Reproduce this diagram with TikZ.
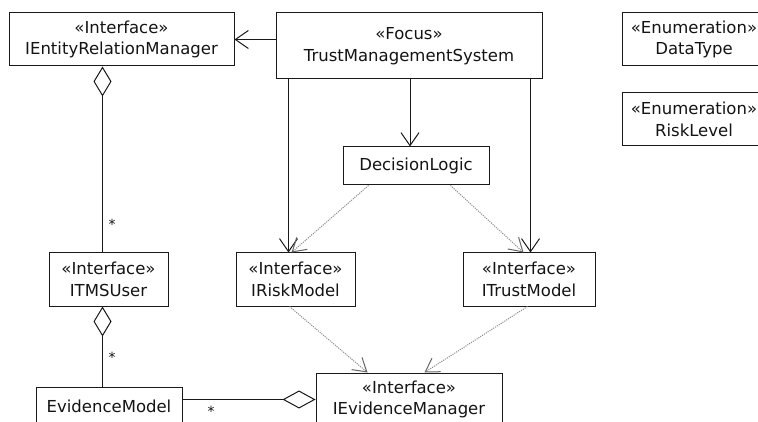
\documentclass[tikz,border=0pt]{standalone}
\usepackage{fontspec}
\setmainfont{DejaVu Sans}
\usetikzlibrary{arrows.meta}
\begin{document}
\begin{tikzpicture}[x=1pt,y=-1pt,
  line width=1pt,
  every node/.style={text=black!92},
  box/.style 2 args={draw=black!90, fill=white, inner sep=0pt, align=center,
    font=\fontsize{16.5}{21.5}\selectfont, minimum width=#1, minimum height=#2},
  assoc/.style={draw=black!90, -{Straight Barb[length=13pt,width=18pt]}},
  depend/.style={draw=black!45, dash pattern=on 1.1pt off 1.1pt,
    -{Straight Barb[length=13pt,width=16pt,color=black!60,line width=1pt]}},
  aggr/.style={draw=black!90, {Diamond[open,length=30pt,width=18pt]}-},
  aggrh/.style={draw=black!90, -{Diamond[open,length=33pt,width=18pt]}},
  mult/.style={font=\fontsize{14}{16}\selectfont, inner sep=0pt}
]
\useasboundingbox (0,0) rectangle (758,422);
\fill[white] (0,0) rectangle (758,422);
\clip (0,0) rectangle (758,422);

% classes
\node[box={225pt}{53pt}] (ierm) at (121.5,39.5) {«Interface»\\IEntityRelationManager};
\node[box={266pt}{66pt}] (tms) at (409,46) {«Focus»\\TrustManagementSystem};
\node[box={146pt}{38pt}] (dl) at (416,166) {DecisionLogic};
\node[box={144pt}{53pt}] (dt) at (694,39.5) {«Enumeration»\\DataType};
\node[box={144pt}{53pt}] (rl) at (694,119.5) {«Enumeration»\\RiskLevel};
\node[box={119pt}{53pt}] (itms) at (108.5,279.5) {«Interface»\\ITMSUser};
\node[box={119pt}{53pt}] (irm) at (295.5,279.5) {«Interface»\\IRiskModel};
\node[box={132pt}{53pt}] (itm) at (529,279.5) {«Interface»\\ITrustModel};
\node[box={146pt}{38pt}] (em) at (109,406) {EvidenceModel};
\node[box={186pt}{53pt}] (iem) at (409,399.5) {«Interface»\\IEvidenceManager};

% directed associations
\draw[assoc] (tms.west |- ierm.east) -- (ierm.east);
\draw[assoc] ([xshift=1pt]tms.south) -- ([xshift=1pt]tms.south |- dl.north);
\draw[assoc] ([xshift=13pt]tms.south west) -- ([xshift=13pt]tms.south west |- irm.north);
\draw[assoc] ([xshift=-12pt]tms.south east) -- ([xshift=-12pt]tms.south east |- itm.north);

% dependencies
\draw[depend] ([xshift=26pt]dl.south west) -- ([xshift=56pt]irm.north west);
\draw[depend] ([xshift=-39pt]dl.south east) -- ([xshift=61pt]itm.north west);
\draw[depend] ([xshift=54pt]irm.south west) -- ([xshift=52pt]iem.north west);
\draw[depend] ([xshift=65pt]itm.south west) -- ([xshift=109pt]iem.north west);

% aggregations
\draw[aggr] ([xshift=94pt]ierm.south west) -- ([xshift=94pt]ierm.south west |- itms.north);
\draw[aggr] ([xshift=54pt]itms.south west) -- ([xshift=54pt]itms.south west |- em.north);
\draw[aggrh] (em.east |- iem.west) -- (iem.west);

% multiplicities
\node[mult] (m1) at (112,224) {*};
\node[mult] (m2) at (112,357) {*};
\node[mult] (m3) at (211,411) {*};
\end{tikzpicture}
\end{document}
